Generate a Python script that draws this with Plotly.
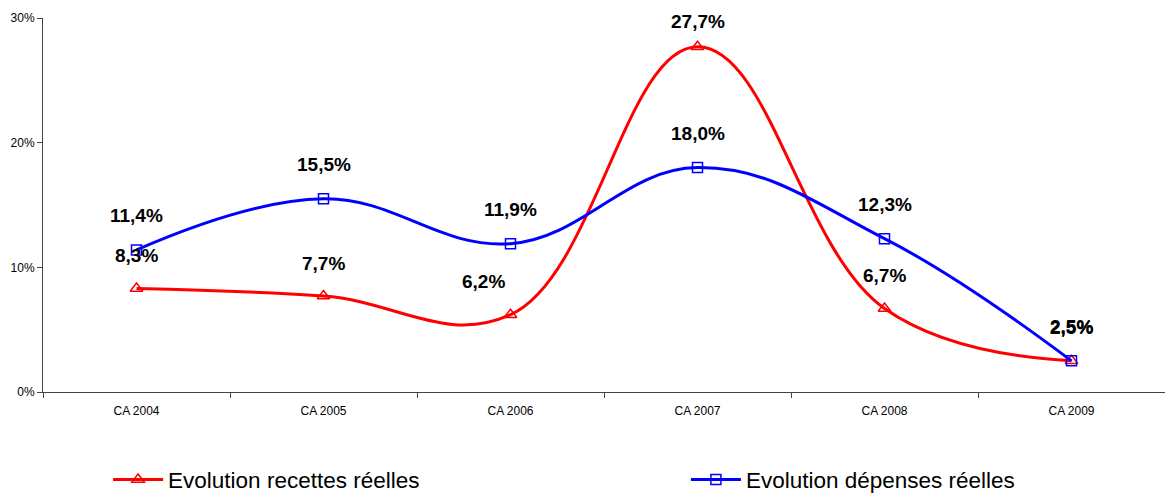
import plotly.graph_objects as go

categories = ["CA 2004", "CA 2005", "CA 2006", "CA 2007", "CA 2008", "CA 2009"]
recettes = [8.3, 7.7, 6.2, 27.7, 6.7, 2.5]
depenses = [11.4, 15.5, 11.9, 18.0, 12.3, 2.5]
y_ticks = [0, 10, 20, 30]
y_tick_labels = ["0%", "10%", "20%", "30%"]

RED = "#ff0000"
BLUE = "#0000ff"
FONT = "Liberation Sans, Arial, sans-serif"


def pct(v):
    return f"{v:.1f}%".replace(".", ",")


fig = go.Figure()
fig.add_trace(go.Scatter(
    x=categories, y=recettes, name="Evolution recettes réelles",
    mode="lines+markers", legend="legend",
    line=dict(color=RED, width=3, shape="spline", smoothing=1.15),
    marker=dict(symbol="triangle-up-open", size=11, color=RED, line=dict(width=1.5, color=RED)),
))
fig.add_trace(go.Scatter(
    x=categories, y=depenses, name="Evolution dépenses réelles",
    mode="lines+markers", legend="legend2",
    line=dict(color=BLUE, width=3, shape="spline", smoothing=1.15),
    marker=dict(symbol="square-open", size=10, color=BLUE, line=dict(width=1.5, color=BLUE)),
))

# value labels above each point
red_dx = [0, 0, -27, 0, 0, 0]
red_dy = [33, 33, 33, 25, 33, 33]
for c, v, dx, dy in zip(categories, recettes, red_dx, red_dy):
    fig.add_annotation(x=c, y=v, text=pct(v), showarrow=False, yshift=dy, xshift=dx,
                       font=dict(family=FONT, size=19, color="black", weight="bold"))
for c, v in zip(categories, depenses):
    fig.add_annotation(x=c, y=v, text=pct(v), showarrow=False, yshift=34,
                       font=dict(family=FONT, size=19, color="black", weight="bold"))

legend_style = dict(orientation="h", y=-0.235, xanchor="left", yanchor="middle",
                    font=dict(family=FONT, size=22.5, color="black"), itemwidth=50,
                    bgcolor="rgba(0,0,0,0)")

fig.update_layout(
    width=1165, height=493,
    margin=dict(l=43, r=0, t=18, b=101, autoexpand=False),
    plot_bgcolor="white", paper_bgcolor="white",
    font=dict(family=FONT, color="#222"),
    showlegend=True,
    legend=dict(x=0.058, **legend_style),
    legend2=dict(x=0.573, **legend_style),
)
fig.update_xaxes(
    type="category", range=[-0.5, 5.5], showgrid=False, showline=True, linecolor="#444", linewidth=1,
    ticks="outside", tickson="boundaries", ticklen=5, tickcolor="#444",
    tickfont=dict(family=FONT, size=12, color="black"), ticklabelstandoff=8,
)
fig.update_yaxes(
    range=[0, 30], tickvals=y_ticks, ticktext=y_tick_labels, showgrid=False, zeroline=False,
    showline=True, linecolor="#444", linewidth=1, ticks="outside", ticklen=5, tickcolor="#444",
    tickfont=dict(family=FONT, size=12, color="black"),
)

fig.write_html("out.html")
